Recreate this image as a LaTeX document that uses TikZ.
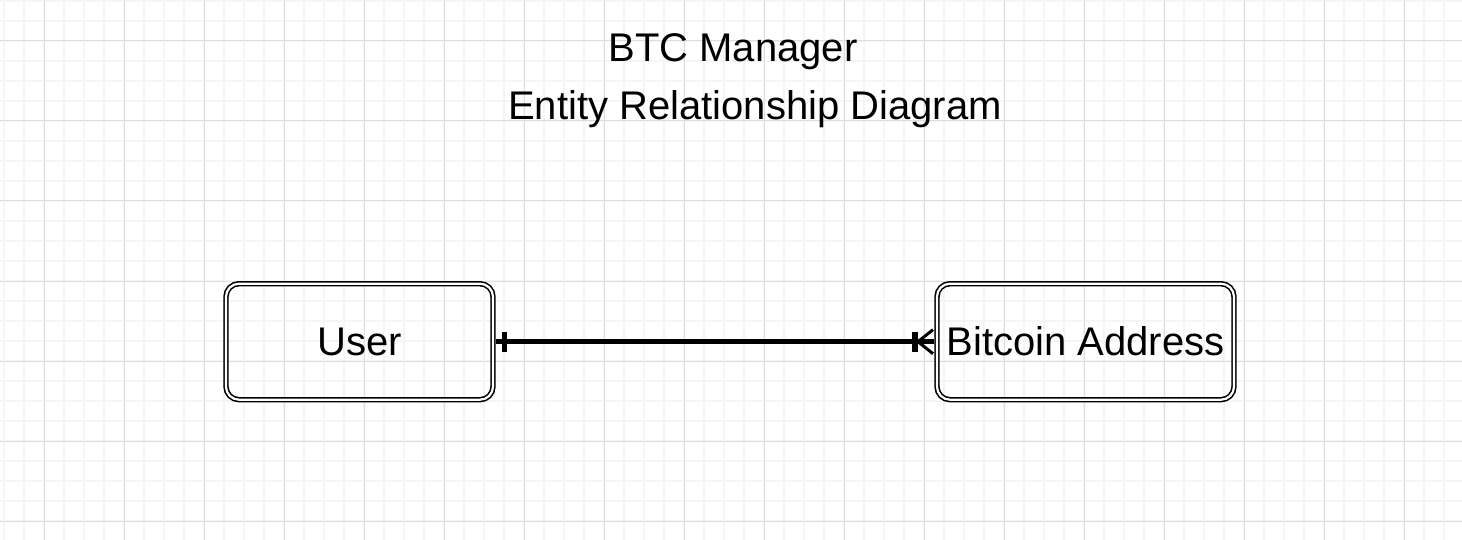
\documentclass[tikz,border=0pt]{standalone}
\usepackage{fontspec}
\setmainfont{Liberation Sans}
\usetikzlibrary{positioning,calc}
\tikzset{
    entity/.style = {
        draw,
        shape=rectangle,
        rounded corners=13pt,
        double=white,
        double distance=2.2pt,
        line width=1.6pt,
        minimum height=116pt,
        inner sep=2pt,
        outer sep=3pt,
        font=\fontsize{40}{48}\selectfont
    },
    heading/.style = {
        anchor=base,
        font=\fontsize{40}{48}\selectfont
    },
    relation/.style = {
        draw,
        line width=4.5pt
    },
    tickbar/.style = {
        draw,
        line width=5.5pt
    },
    crowfoot/.style = {
        draw,
        line width=3pt
    },
    gridminor/.style = {
        draw=black!4,
        line width=1.5pt
    },
    gridmajor/.style = {
        draw=black!13,
        line width=1pt
    },
}

\begin{document}
\begin{tikzpicture}[x=1pt,y=-1pt]
                \useasboundingbox (0,0) rectangle (1462,540);
                \fill[white] (0,0) rectangle (1462,540);

                % grid
                \foreach \gx in {4,24,...,1444}
                    \path[gridminor] (\gx,0) -- (\gx,540);
                \foreach \gy in {1,21,...,521}
                    \path[gridminor] (0,\gy) -- (1462,\gy);
                \foreach \gx in {44,124,...,1404}
                    \path[gridmajor] (\gx,0) -- (\gx,540);
                \foreach \gy in {41,121,...,521}
                    \path[gridmajor] (0,\gy) -- (1462,\gy);

                \node[heading] (title) at (733,62) {BTC Manager};
                \node[heading] (subtitle) at (755,120) {Entity Relationship Diagram};

                \node[entity, minimum width=267pt] (user) at (359.5,341.7) {User};
                \node[entity, minimum width=297pt] (btc) at (1085.5,341.7) {Bitcoin Address};

                \path[relation] (user.east) -- (btc.west);
                \path[tickbar] ($(user.east)+(8.7,-10)$) -- ($(user.east)+(8.7,10)$);
                \path[tickbar] ($(btc.west)+(-19,-10)$) -- ($(btc.west)+(-19,10)$);
                \path[crowfoot] ($(btc.west)+(-16,0)$) -- ($(btc.west)+(-1,-12)$);
                \path[crowfoot] ($(btc.west)+(-16,0)$) -- ($(btc.west)+(-1,12)$);
            \end{tikzpicture}
\end{document}
